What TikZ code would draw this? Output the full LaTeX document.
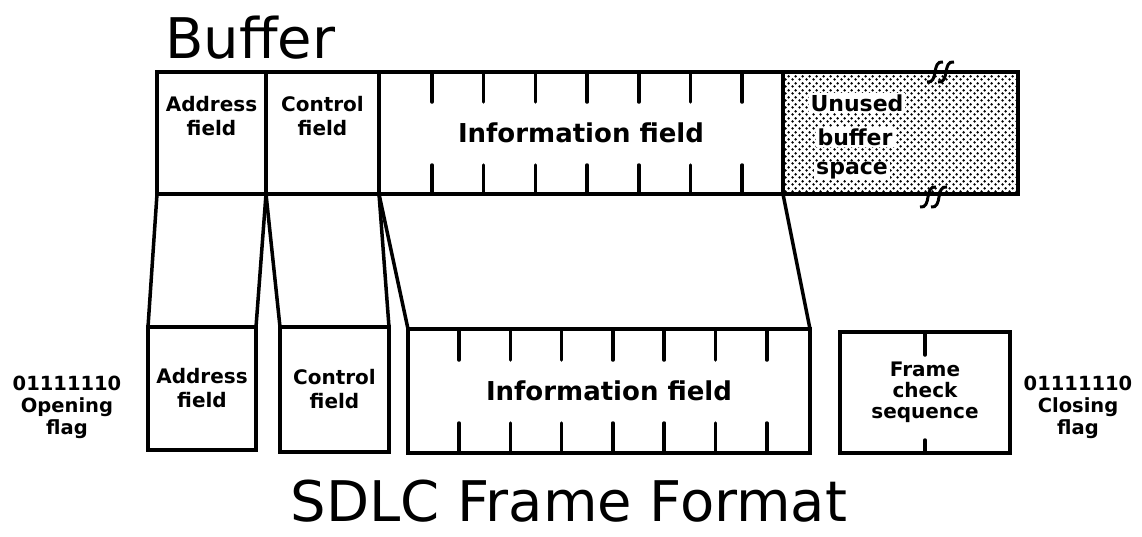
\documentclass[tikz,border=0pt]{standalone}
\usepackage{fontspec}
\setmainfont{DejaVu Sans}
\usetikzlibrary{patterns.meta}

\tikzdeclarepattern{
  name=stipple,
  type=uncolored,
  bounding box={(0pt,0pt) and (7pt,7pt)},
  tile size={(7pt,7pt)},
  code={
    \fill (1.75pt,1.75pt) circle (1.5pt);
    \fill (5.25pt,5.25pt) circle (1.5pt);
  }
}

\begin{document}
\begin{tikzpicture}[x=1pt,y=-1pt]

        \tikzset{
            field/.style={
                draw,
                line width=3.5pt,
                outer sep=0pt,
                inner sep=0pt,
                align=center,
                font=\fontsize{20}{24}\selectfont\bfseries
            },
            bigfield/.style={
                field,
                font=\fontsize{26}{30}\selectfont\bfseries
            },
            fieldtext/.style={
                align=center,
                inner sep=0pt,
                font=\fontsize{20}{24}\selectfont\bfseries
            },
            flagtext/.style={
                align=center,
                inner sep=0pt,
                font=\fontsize{19.5}{22}\selectfont\bfseries
            },
            freetext/.style={
                fill=white,
                inner xsep=2pt,
                inner ysep=1pt,
                font=\fontsize{22}{26}\selectfont\bfseries
            },
            heading/.style={
                inner sep=0pt,
                font=\fontsize{56}{60}\selectfont
            },
            link/.style={line width=3.5pt},
            tickline/.style={line width=3.5pt, line cap=round},
            breakline/.style={line width=3pt}
        }

        \newcommand{\BreakMark}[2]{
            \draw[breakline] (#1-8,#2+10) .. controls (#1+4,#2+12) and (#1-4,#2-12) .. (#1+8,#2-10);
        }

        \useasboundingbox (0,0) rectangle (1142,536);

        \node[heading, anchor=base west] (bufferTitle) at (165,58) {Buffer};

        % buffer
        \node[field, minimum width=109pt, minimum height=122pt] (bufAddr) at (211.5,133) {};
        \node[field, minimum width=113pt, minimum height=122pt] (bufCtrl) at (322.5,133) {};
        \node[bigfield, minimum width=404pt, minimum height=122pt] (bufInfo) at (581,133) {Information field};
        \node[field, minimum width=235pt, minimum height=122pt, pattern={stipple}] (bufFree) at (900.5,133) {};

        \node[fieldtext] (bufAddrText) at ([yshift=17pt]bufAddr.center) {Address\\field};
        \node[fieldtext] (bufCtrlText) at ([yshift=17pt]bufCtrl.center) {Control\\field};

        \node[freetext] (freeA) at (857,103) {Unused};
        \node[freetext] (freeB) at (855,137) {buffer};
        \node[freetext] (freeC) at (852,171) {space};

        \foreach \i in {0,...,6} {
            \draw[tickline] ([xshift=53pt+\i*51.7pt]bufInfo.north west) -- ++(0,30);
            \draw[tickline] ([xshift=53pt+\i*51.7pt]bufInfo.south west) -- ++(0,-29);
        }

        \BreakMark{935}{72}
        \BreakMark{946}{72}
        \BreakMark{928}{197}
        \BreakMark{939}{197}

        % frame
        \node[field, minimum width=108pt, minimum height=123pt] (addr) at (202,388.5) {Address\\field};
        \node[field, minimum width=109pt, minimum height=125pt] (ctrl) at (334.5,389.5) {Control\\field};
        \node[bigfield, minimum width=402pt, minimum height=124pt] (info) at (609,391) {Information field};
        \node[field, minimum width=170pt, minimum height=121pt, font=\fontsize{20}{21}\selectfont\bfseries] (fcs) at (925,392.5) {Frame\\check\\sequence};

        \foreach \i in {0,...,6} {
            \draw[tickline] ([xshift=51pt+\i*51.3pt]info.north west) -- ++(0,31);
            \draw[tickline] ([xshift=51pt+\i*51.3pt]info.south west) -- ++(0,-30);
        }
        \draw[tickline] (fcs.north) -- ++(0,23);
        \draw[tickline] (fcs.south) -- ++(0,-13);

        \draw[link] (bufAddr.south west) -- (addr.north west);
        \draw[link] (bufAddr.south east) -- (addr.north east);
        \draw[link] (bufCtrl.south west) -- (ctrl.north west);
        \draw[link] (bufCtrl.south east) -- (ctrl.north east);
        \draw[link] (bufInfo.south west) -- (info.north west);
        \draw[link] (bufInfo.south east) -- (info.north east);

        \node[flagtext] (openFlag) at (67,407) {01111110\\Opening\\flag};
        \node[flagtext] (closeFlag) at (1078,407) {01111110\\Closing\\flag};

        \node[heading, anchor=base] (frameTitle) at (569,521) {SDLC Frame Format};

\end{tikzpicture}
\end{document}
